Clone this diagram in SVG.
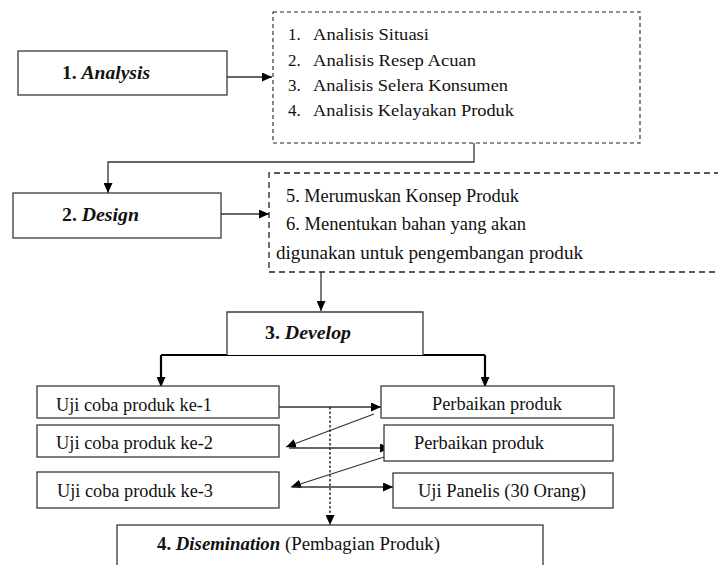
<svg xmlns="http://www.w3.org/2000/svg" width="718" height="565" viewBox="0 0 718 565">
<defs>
<style>
.box{fill:#fff;stroke:#3a3a3a;stroke-width:1.3}
.dash1{fill:none;stroke:#222;stroke-width:1.1;stroke-dasharray:4,3}
.dash2{fill:none;stroke:#222;stroke-width:1.3;stroke-dasharray:6,4}
.ln{fill:none;stroke:#333;stroke-width:1.3}
.thick{fill:none;stroke:#000;stroke-width:2.2}
.dot{fill:none;stroke:#222;stroke-width:1.4;stroke-dasharray:2.5,2}
</style>
<marker id="ah" markerUnits="userSpaceOnUse" markerWidth="11" markerHeight="9" refX="10" refY="4.5" orient="auto">
<path d="M0,0 L10,4.5 L0,9 z" fill="#000"/>
</marker>
</defs>
<rect width="718" height="565" fill="#fff"/>

<g id="connectors">
<path class="ln" d="M227,77 H272" marker-end="url(#ah)"/>
<path class="ln" d="M474,143 V162 H108 V193" marker-end="url(#ah)"/>
<path class="ln" d="M221,214 H269" marker-end="url(#ah)"/>
<path class="ln" d="M321,272 V311" marker-end="url(#ah)"/>
<path class="thick" d="M161,355 H485"/>
<path class="thick" d="M161,355 V387" marker-end="url(#ah)"/>
<path class="thick" d="M485,355 V387" marker-end="url(#ah)"/>
<path class="ln" d="M279,407 H381" marker-end="url(#ah)"/>
<path class="ln" d="M374,414 L286,447" marker-end="url(#ah)"/>
<path class="ln" d="M289,448 H390" marker-end="url(#ah)"/>
<path class="ln" d="M384,457 L291,487" marker-end="url(#ah)"/>
<path class="ln" d="M292,487 H393" marker-end="url(#ah)"/>
<path class="dot" d="M330,407 V525" marker-end="url(#ah)"/>
</g>

<g id="analysis">
<rect class="box" x="18" y="51" width="209" height="44"/>
<text font-family="Liberation Serif" font-size="18" fill="#111" x="62" y="79" textLength="88" lengthAdjust="spacingAndGlyphs"><tspan font-weight="bold">1. </tspan><tspan font-weight="bold" font-style="italic">Analysis</tspan></text>
</g>

<g id="analysis-list">
<rect class="dash1" x="273" y="12" width="367" height="131"/>
<text font-family="Liberation Serif" font-size="17" fill="#111" x="288" y="40">1.</text>
<text font-family="Liberation Serif" font-size="17" fill="#111" x="313" y="40" textLength="116" lengthAdjust="spacingAndGlyphs">Analisis Situasi</text>
<text font-family="Liberation Serif" font-size="17" fill="#111" x="288" y="65.5">2.</text>
<text font-family="Liberation Serif" font-size="17" fill="#111" x="313" y="65.5" textLength="163" lengthAdjust="spacingAndGlyphs">Analisis Resep Acuan</text>
<text font-family="Liberation Serif" font-size="17" fill="#111" x="288" y="91">3.</text>
<text font-family="Liberation Serif" font-size="17" fill="#111" x="313" y="91" textLength="195" lengthAdjust="spacingAndGlyphs">Analisis Selera Konsumen</text>
<text font-family="Liberation Serif" font-size="17" fill="#111" x="288" y="116">4.</text>
<text font-family="Liberation Serif" font-size="17" fill="#111" x="313" y="116" textLength="201" lengthAdjust="spacingAndGlyphs">Analisis Kelayakan Produk</text>
</g>

<g id="design">
<rect class="box" x="13" y="193" width="208" height="45"/>
<text font-family="Liberation Serif" font-size="18" fill="#111" x="62" y="221" textLength="77" lengthAdjust="spacingAndGlyphs"><tspan font-weight="bold">2. </tspan><tspan font-weight="bold" font-style="italic">Design</tspan></text>
</g>

<g id="design-list">
<path class="dash2" d="M720,173 H269 V272 H720"/>
<text font-family="Liberation Serif" font-size="18" fill="#111" x="286" y="201.5" textLength="233" lengthAdjust="spacingAndGlyphs">5. Merumuskan Konsep Produk</text>
<text font-family="Liberation Serif" font-size="18" fill="#111" x="286" y="230" textLength="240" lengthAdjust="spacingAndGlyphs">6. Menentukan bahan yang akan</text>
<text font-family="Liberation Serif" font-size="18" fill="#111" x="276" y="258.5" textLength="307" lengthAdjust="spacingAndGlyphs">digunakan untuk pengembangan produk</text>
</g>

<g id="develop">
<path class="box" d="M227,355 V312 H423 V355"/>
<text font-family="Liberation Serif" font-size="18" fill="#111" x="265" y="339" textLength="86" lengthAdjust="spacingAndGlyphs"><tspan font-weight="bold">3. </tspan><tspan font-weight="bold" font-style="italic">Develop</tspan></text>
</g>

<g id="uji1">
<rect class="box" x="37" y="386" width="242" height="32"/>
<text font-family="Liberation Serif" font-size="18" fill="#111" x="56" y="411" textLength="156" lengthAdjust="spacingAndGlyphs">Uji coba produk ke-1</text>
</g>
<g id="uji2">
<rect class="box" x="37" y="425" width="242" height="32"/>
<text font-family="Liberation Serif" font-size="18" fill="#111" x="56" y="449" textLength="157" lengthAdjust="spacingAndGlyphs">Uji coba produk ke-2</text>
</g>
<g id="uji3">
<rect class="box" x="37" y="472" width="242" height="36"/>
<text font-family="Liberation Serif" font-size="18" fill="#111" x="57" y="497" textLength="156" lengthAdjust="spacingAndGlyphs">Uji coba produk ke-3</text>
</g>
<g id="perbaikan1">
<rect class="box" x="381" y="386" width="233" height="32"/>
<text font-family="Liberation Serif" font-size="18" fill="#111" x="432" y="410" textLength="130" lengthAdjust="spacingAndGlyphs">Perbaikan produk</text>
</g>
<g id="perbaikan2">
<rect class="box" x="384" y="425" width="229" height="36"/>
<text font-family="Liberation Serif" font-size="18" fill="#111" x="414" y="448.5" textLength="130" lengthAdjust="spacingAndGlyphs">Perbaikan produk</text>
</g>
<g id="panelis">
<rect class="box" x="393" y="473" width="220" height="35"/>
<text font-family="Liberation Serif" font-size="18" fill="#111" x="418" y="497" textLength="168" lengthAdjust="spacingAndGlyphs">Uji Panelis (30 Orang)</text>
</g>

<g id="disemination">
<rect class="box" x="117" y="525" width="426" height="50"/>
<text font-family="Liberation Serif" font-size="18" fill="#111" x="157" y="550" textLength="283" lengthAdjust="spacingAndGlyphs"><tspan font-weight="bold">4. </tspan><tspan font-weight="bold" font-style="italic">Disemination</tspan><tspan> (Pembagian Produk)</tspan></text>
</g>
</svg>
